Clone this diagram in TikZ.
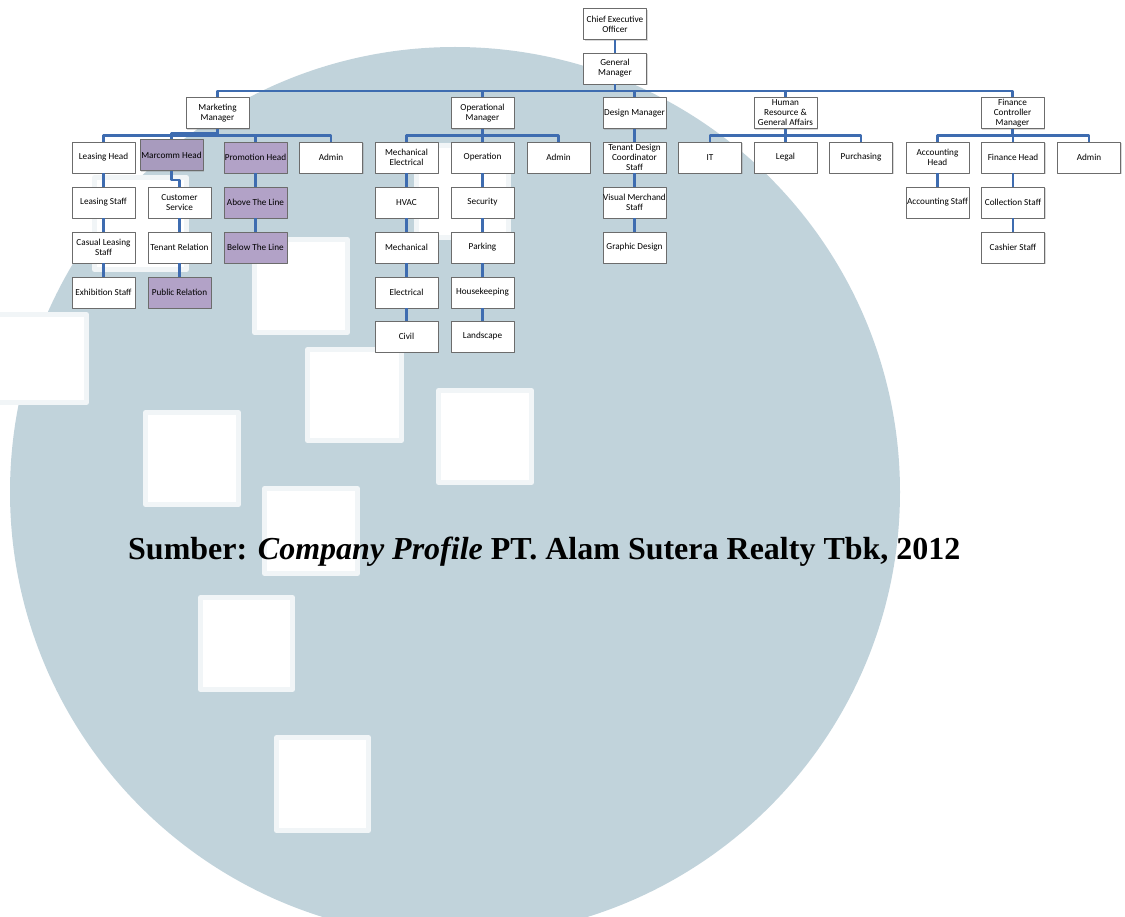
\documentclass[tikz,border=0pt]{standalone}
\usepackage{fontspec}
\setmainfont{Liberation Serif}
\newfontfamily\boxfont{Carlito}
\usetikzlibrary{shadows}
\definecolor{wmark}{RGB}{193,211,219}
\definecolor{linkblue}{RGB}{62,108,176}
\definecolor{lilac}{RGB}{178,162,199}
\definecolor{lilacgray}{RGB}{168,155,190}
\begin{document}
\begin{tikzpicture}[x=1pt, y=-1pt,
                    line join=round,
                    ]
    \tikzstyle{box}=[draw=gray!85!black, fill=white, line width=0.7pt,
        minimum width=63pt, minimum height=31pt, inner xsep=0pt, inner ysep=0pt,
        align=center, font=\boxfont\fontsize{9.2}{10}\selectfont,
        drop shadow={shadow xshift=1pt, shadow yshift=-1.3pt, opacity=0.3}]
    \tikzstyle{marked}=[box, fill=lilac];
    \tikzstyle{markedgray}=[box, fill=lilacgray];
    \tikzstyle{link}=[draw=linkblue, line width=2.6pt];
    \tikzstyle{hole}=[fill=white, draw=white!78!wmark, line width=5pt];

    \useasboundingbox (0,0) rectangle (1125,917);
    \clip (0,0) rectangle (1125,917);

    % watermark behind the chart
    \fill[wmark] (455,492) circle [radius=445pt];
    \path[hole] (254.5,239.5) rectangle (347.5,332.5);
    \path[hole] (307.5,349.5) rectangle (401.5,440.5);
    \path[hole] (438.5,390.5) rectangle (531.5,482.5);
    \path[hole] (145.5,412.5) rectangle (238.5,504.5);
    \path[hole] (264.5,488.5) rectangle (357.5,573.5);
    \path[hole] (200.5,597.5) rectangle (292.5,689.5);
    \path[hole] (276.5,737.5) rectangle (368.5,830.5);
    \path[hole] (-5.5,314.5) rectangle (86.5,402.5);
    \path[hole] (94.5,177.5) rectangle (186.5,269.5);
    \path[hole] (416.5,145.5) rectangle (508.5,237.5);

    % top
    \node[box] (ceo) at (615,24) {Chief Executive\\Officer};
    \node[box] (gm) at (615,68.5) {General\\Manager};

    % managers
    \node[box] (mm) at (217.5,113) {Marketing\\Manager};
    \node[box] (om) at (482.5,113) {Operational\\Manager};
    \node[box] (dm) at (634.5,113) {Design Manager};
    \node[box] (hr) at (785.5,113) {Human\\Resource \&\\General Affairs};
    \node[box] (fcm) at (1012.5,113) {Finance\\Controller\\Manager};

    % marketing
    \node[box] (leasehead) at (103.5,157.5) {Leasing Head};
    \node[markedgray] (marcomm) at (171.5,155) {Marcomm Head};
    \node[marked] (promohead) at (255.5,157.5) {Promotion Head};
    \node[box] (mktadmin) at (331,157.5) {Admin};
    \node[box] (leasestaff) at (103.5,202.5) {Leasing Staff};
    \node[box] (casual) at (103.5,247.5) {Casual Leasing\\Staff};
    \node[box] (exhib) at (103.5,292.5) {Exhibition Staff};
    \node[box] (custserv) at (179.5,202.5) {Customer\\Service};
    \node[box] (tenantrel) at (179.5,247.5) {Tenant Relation};
    \node[marked] (pubrel) at (179.5,292.5) {Public Relation};
    \node[marked] (atl) at (255.5,202.5) {Above The Line};
    \node[marked] (btl) at (255.5,247.5) {Below The Line};

    % operational
    \node[box] (mechelec) at (406.5,157.5) {Mechanical\\Electrical};
    \node[box] (hvac) at (406.5,202.5) {HVAC};
    \node[box] (mech) at (406.5,247.5) {Mechanical};
    \node[box] (elec) at (406.5,292.5) {Electrical};
    \node[box] (civil) at (406.5,336.5) {Civil};
    \node[box] (operation) at (482.5,157.5) {Operation};
    \node[box] (security) at (482.5,202.5) {Security};
    \node[box] (parking) at (482.5,247.5) {Parking};
    \node[box] (housekeep) at (482.5,292.5) {Housekeeping};
    \node[box] (landscape) at (482.5,336.5) {Landscape};
    \node[box] (opsadmin) at (558.5,157.5) {Admin};

    % design
    \node[box] (tenantdes) at (634.5,157.5) {Tenant Design\\Coordinator\\Staff};
    \node[box] (visual) at (634.5,202.5) {Visual Merchand\\Staff};
    \node[box] (graphic) at (634.5,247.5) {Graphic Design};

    % hr and finance
    \node[box] (it) at (710,157.5) {IT};
    \node[box] (legal) at (785.5,157.5) {Legal};
    \node[box] (purchasing) at (861,157.5) {Purchasing};
    \node[box] (acchead) at (937.5,157.5) {Accounting\\Head};
    \node[box] (finhead) at (1013,157.5) {Finance Head};
    \node[box] (finadmin) at (1089,157.5) {Admin};
    \node[box] (accstaff) at (937.5,202.5) {Accounting Staff};
    \node[box] (collect) at (1013,202.5) {Collection Staff};
    \node[box] (cashier) at (1013,247.5) {Cashier Staff};

    % connectors
    \path[link] (ceo) -- (gm);
    \path[link] (gm.south) -- ++(0,6.5) -| (mm.north);
    \path[link] (gm.south) -- ++(0,6.5) -| (om.north);
    \path[link] (gm.south) -- ++(0,6.5) -| (dm.north);
    \path[link] (gm.south) -- ++(0,6.5) -| (hr.north);
    \path[link] (gm.south) -- ++(0,6.5) -| (fcm.north);

    \path[link] (mm.south) -- ++(0,6.5) -| (leasehead.north);
    \path[link] (mm.south) -- ++(0,4.5) -| (marcomm.north);
    \path[link] (mm.south) -- ++(0,6.5) -| (promohead.north);
    \path[link] (mm.south) -- ++(0,6.5) -| (mktadmin.north);
    \path[link] (leasehead) -- (leasestaff);
    \path[link] (leasestaff) -- (casual);
    \path[link] (casual) -- (exhib);
    \path[link] (marcomm.south) -- ++(0,9) -| (custserv.north);
    \path[link] (custserv) -- (tenantrel);
    \path[link] (tenantrel) -- (pubrel);
    \path[link] (promohead) -- (atl);
    \path[link] (atl) -- (btl);

    \path[link] (om.south) -- ++(0,6.5) -| (mechelec.north);
    \path[link] (om.south) -- ++(0,6.5) -| (operation.north);
    \path[link] (om.south) -- ++(0,6.5) -| (opsadmin.north);
    \path[link] (mechelec) -- (hvac);
    \path[link] (hvac) -- (mech);
    \path[link] (mech) -- (elec);
    \path[link] (elec) -- (civil);
    \path[link] (operation) -- (security);
    \path[link] (security) -- (parking);
    \path[link] (parking) -- (housekeep);
    \path[link] (housekeep) -- (landscape);

    \path[link] (dm) -- (tenantdes);
    \path[link] (tenantdes) -- (visual);
    \path[link] (visual) -- (graphic);

    \path[link] (hr.south) -- ++(0,6.5) -| (it.north);
    \path[link] (hr.south) -- ++(0,6.5) -| (legal.north);
    \path[link] (hr.south) -- ++(0,6.5) -| (purchasing.north);

    \path[link] (fcm.south) -- ++(0,6.5) -| (acchead.north);
    \path[link] (fcm.south) -- ++(0,6.5) -| (finhead.north);
    \path[link] (fcm.south) -- ++(0,6.5) -| (finadmin.north);
    \path[link] (acchead) -- (accstaff);
    \path[link] (finhead) -- (collect);
    \path[link] (collect) -- (cashier);

    \node[anchor=base west, inner sep=0pt] (source) at (128,559)
        {\fontsize{32}{36}\selectfont\bfseries Sumber: \textit{Company Profile} PT. Alam Sutera Realty Tbk, 2012};
\end{tikzpicture}
\end{document}
